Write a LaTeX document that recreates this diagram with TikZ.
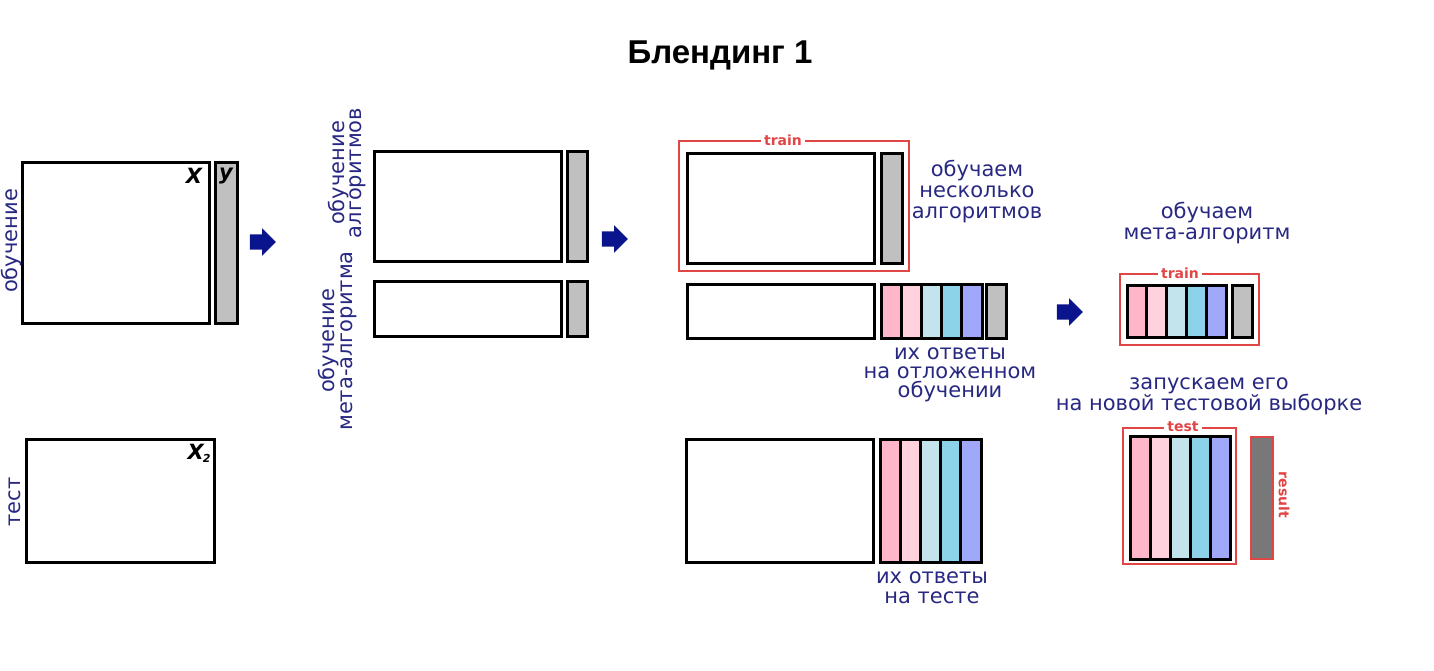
\documentclass[tikz,border=0pt]{standalone}
\usepackage{fontspec}
\setmainfont{DejaVu Sans}
\newfontfamily\titlefont{Liberation Sans}
\usetikzlibrary{shapes.arrows}

\definecolor{labelblue}{RGB}{40,40,130}
\definecolor{arrowblue}{RGB}{10,20,140}
\definecolor{framered}{RGB}{225,70,70}
\definecolor{targetgray}{RGB}{192,192,192}
\definecolor{resultgray}{RGB}{120,120,120}
\definecolor{stripA}{RGB}{255,182,200}
\definecolor{stripB}{RGB}{255,210,222}
\definecolor{stripC}{RGB}{195,228,236}
\definecolor{stripD}{RGB}{140,210,232}
\definecolor{stripE}{RGB}{160,168,250}

\tikzset{
  databox/.style={draw=black, line width=3pt, fill=white},
  targetbox/.style={draw=black, line width=3pt, fill=targetgray},
  stripbox/.style={draw=black, line width=3pt},
  redframe/.style={draw=framered, line width=2.2pt},
  framelabel/.style={text=framered, font=\bfseries\fontsize{14}{14}\selectfont, fill=white, inner xsep=3pt, inner ysep=0pt},
  note/.style={text=labelblue, font=\fontsize{21}{21}\selectfont, align=center, inner sep=0pt},
  varlabel/.style={font=\bfseries\itshape\fontsize{21}{21}\selectfont, inner sep=0pt},
  steparrow/.style={single arrow, fill=arrowblue, draw=none, minimum height=26pt, minimum width=26pt,
    inner xsep=0pt, inner ysep=7.5pt, text height=0pt, text depth=0pt, single arrow head extend=6pt}
}

% five coloured answer columns: left x, column width, top, bottom
\newcommand\answerstrips[4]{%
  \foreach \shade [count=\k from 0] in {stripA,stripB,stripC,stripD,stripE}
    \draw[stripbox, fill=\shade] ({#1+\k*#2},#3) rectangle ({#1+(\k+1)*#2},#4);}

\begin{document}
\begin{tikzpicture}[x=1pt, y=-1pt]
  \useasboundingbox (0,0) rectangle (1434,670);
  \node[font=\titlefont\bfseries\fontsize{33}{33}\selectfont] (title) at (720,55) {Блендинг 1};

  % source data
  \draw[databox] (22,162) rectangle (209,323);
  \draw[targetbox] (215,162) rectangle (237,323);
  \node[varlabel] (xlab) at (194,176) {X};
  \node[varlabel] (ylab) at (226,176) {y};
  \node[note, rotate=90, anchor=base] (trainlab) at (17,241) {обучение};
  \draw[databox] (26,439) rectangle (214,562);
  \node[varlabel] (xtwo) at (199,453) {X\kern-1pt\raisebox{-3pt}{\fontsize{11}{11}\selectfont 2}};
  \node[note, rotate=90, anchor=base] (testlab) at (20,502) {тест};
  \node[steparrow] (arrow1) at (259,242) {};

  % split of the training part
  \draw[databox] (374,151) rectangle (561,261);
  \draw[targetbox] (567,151) rectangle (587,261);
  \draw[databox] (374,281) rectangle (561,336);
  \draw[targetbox] (567,281) rectangle (587,336);
  \node[note, rotate=90, font=\fontsize{21}{17}\selectfont] (baselab) at (347,173) {обучение\\алгоритмов};
  \node[note, rotate=90, font=\fontsize{21}{18}\selectfont] (metalab) at (338,341) {обучение\\мета-алгоритма};
  \node[steparrow] (arrow2) at (611,239) {};

  % base algorithms
  \draw[redframe] (679,141) rectangle (909,271);
  \node[framelabel] (train1) at (783,140) {train};
  \draw[databox] (687,153) rectangle (874,263);
  \draw[targetbox] (881,153) rectangle (902,263);
  \node[note] (fitmany) at (977,192) {обучаем\\несколько\\алгоритмов};
  \draw[databox] (687,284) rectangle (874,338);
  \answerstrips{881}{20.2}{284}{338}
  \draw[targetbox] (986,284) rectangle (1006,338);
  \node[note, font=\fontsize{21}{19}\selectfont] (holdout) at (950,375) {их ответы\\на отложенном\\обучении};
  \draw[databox] (686,439) rectangle (873,562);
  \answerstrips{880}{20.2}{439}{562}
  \node[note, font=\fontsize{21}{20}\selectfont] (ontest) at (932,588) {их ответы\\на тесте};

  % meta algorithm
  \node[steparrow] (arrow3) at (1066,312) {};
  \node[note] (fitmeta) at (1207,223) {обучаем\\мета-алгоритм};
  \draw[redframe] (1120,274) rectangle (1259,345);
  \node[framelabel] (train2) at (1180,273) {train};
  \answerstrips{1127}{19.8}{285}{337}
  \draw[targetbox] (1232,285) rectangle (1252,337);
  \node[note] (runmeta) at (1209,396) {запускаем его\\на новой тестовой выборке};
  \draw[redframe] (1123,428) rectangle (1236,564);
  \node[framelabel] (testtag) at (1183,427) {test};
  \answerstrips{1130}{20}{436}{559}
  \draw[redframe, fill=resultgray] (1251,437) rectangle (1273,559);
  \node[framelabel, fill=none, rotate=-90] (resulttag) at (1284,495) {result};
\end{tikzpicture}
\end{document}
